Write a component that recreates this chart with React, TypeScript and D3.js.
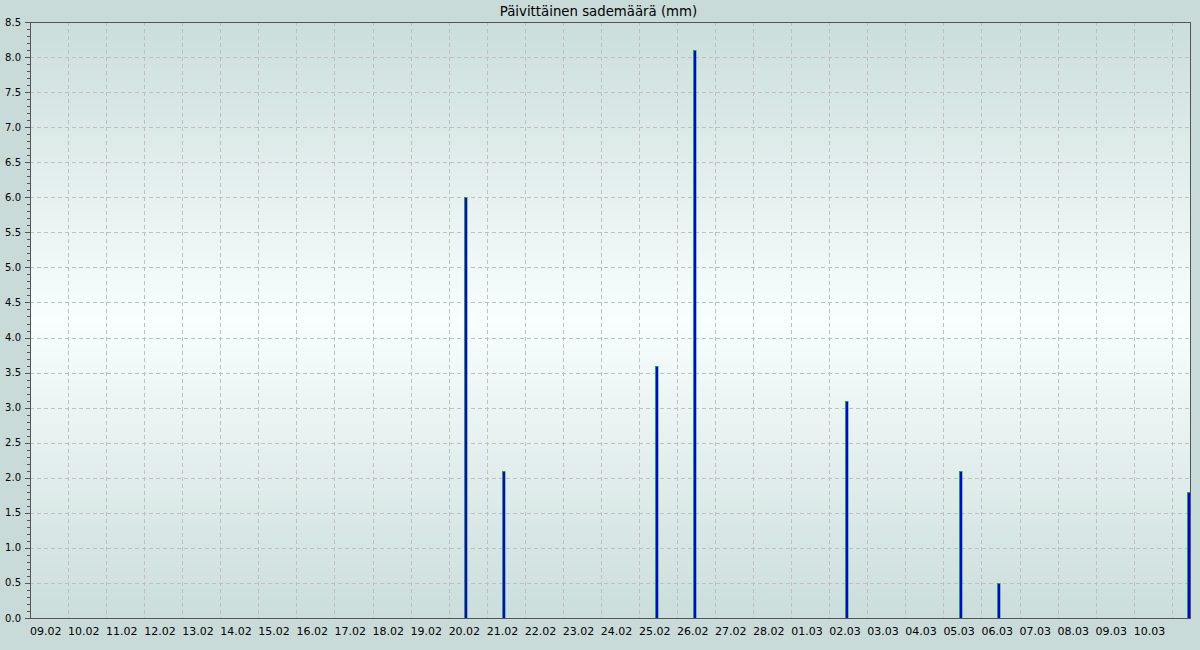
import React from "react";
import * as d3 from "d3";

const title = "Päivittäinen sademäärä (mm)";
const tickLabels = [
  "09.02", "10.02", "11.02", "12.02", "13.02", "14.02", "15.02", "16.02", "17.02", "18.02",
  "19.02", "20.02", "21.02", "22.02", "23.02", "24.02", "25.02", "26.02", "27.02", "28.02",
  "01.03", "02.03", "03.03", "04.03", "05.03", "06.03", "07.03", "08.03", "09.03", "10.03",
];
const rainDates = ["20.02", "21.02", "25.02", "26.02", "02.03", "05.03", "06.03", "11.03"];
const rainValues = [6.0, 2.1, 3.6, 8.1, 3.1, 2.1, 0.5, 1.8];
const yMax = 8.5;

const YEAR = 2023;
const parseDay = (s: string) => {
  const [d, m] = s.split(".").map(Number);
  return new Date(Date.UTC(YEAR, m - 1, d));
};
const DAY = 86400000;

export default function App() {
  const W = 1200, H = 650;
  const left = 30, right = 1190, top = 22, bottom = 618;
  const start = parseDay(tickLabels[0]);
  const end = new Date(start.getTime() + 30.48 * DAY);
  const x = d3.scaleUtc().domain([start, end]).range([left, right]);
  const y = d3.scaleLinear().domain([0, yMax]).range([bottom, top]);

  const majorTicks = d3.range(0, yMax + 0.001, 0.5);
  const minorTicks = d3.range(0, yMax + 0.001, 0.1).filter(
    (v) => Math.abs(v * 2 - Math.round(v * 2)) > 0.01
  );
  const gridDays = d3.range(1, 31).map((i) => new Date(start.getTime() + i * DAY));
  const barOffset = 0.45 * DAY;

  return (
    <svg width={W} height={H} style={{ position: "absolute", left: 0, top: 0, display: "block" }}
      fontFamily="DejaVu Sans, sans-serif">
      <defs>
        <linearGradient id="bg" x1="0" y1="0" x2="0" y2="1">
          <stop offset="0" stopColor="#cbdedb" />
          <stop offset="0.5" stopColor="#f8fefe" />
          <stop offset="1" stopColor="#cbdedb" />
        </linearGradient>
        <clipPath id="plotclip">
          <rect x={left} y={top} width={right - left} height={bottom - top} />
        </clipPath>
      </defs>
      <rect x={0} y={0} width={W} height={H} fill="#c8dbd8" />
      <rect x={left} y={top} width={right - left} height={bottom - top} fill="url(#bg)" />
      <text x={598.5} y={16} textAnchor="middle" fontSize={13.3} fill="#000">{title}</text>
      <g stroke="#c0c0c0" strokeWidth={1} strokeDasharray="4,3">
        {majorTicks.filter((v) => v > 0 && v < yMax).map((v) => (
          <line key={"h" + v} x1={left} x2={right} y1={Math.round(y(v)) + 0.5} y2={Math.round(y(v)) + 0.5} />
        ))}
        {gridDays.map((d, i) => (
          <line key={"v" + i} x1={Math.round(x(d)) + 0.5} x2={Math.round(x(d)) + 0.5} y1={top} y2={bottom} />
        ))}
      </g>
      <g clipPath="url(#plotclip)">
        {rainDates.map((s, i) => {
          const cx = x(new Date(parseDay(s).getTime() + barOffset));
          const L = Math.round(cx - 1.5);
          const y0 = Math.round(y(rainValues[i]));
          return (
            <g key={s}>
              <rect x={L} y={y0} width={3.5} height={bottom - y0} fill="#33a033" />
              <rect x={L + 1} y={y0 + 1} width={2} height={bottom - y0 - 1} fill="#0000ff" />
            </g>
          );
        })}
      </g>
      <g stroke="#555" strokeWidth={1} fill="none">
        <line x1={left} x2={right} y1={top + 0.5} y2={top + 0.5} />
        <line x1={right + 0.5} x2={right + 0.5} y1={top} y2={bottom} />
        <line x1={left + 0.5} x2={left + 0.5} y1={top} y2={bottom + 1} />
        <line x1={left} x2={right + 1} y1={bottom + 0.5} y2={bottom + 0.5} />
        {majorTicks.map((v) => (
          <line key={"M" + v} x1={25} x2={left} y1={Math.round(y(v)) + 0.5} y2={Math.round(y(v)) + 0.5} />
        ))}
        {minorTicks.map((v) => (
          <line key={"m" + v} x1={27} x2={left} y1={Math.round(y(v)) + 0.5} y2={Math.round(y(v)) + 0.5} />
        ))}
      </g>
      <g fontSize={10} fill="#000" textAnchor="end">
        {majorTicks.map((v) => (
          <text key={"yl" + v} x={21} y={y(v)} dy="0.35em">{v.toFixed(1)}</text>
        ))}
      </g>
      <g fontSize={11} fill="#000" textAnchor="start">
        {tickLabels.map((s, i) => (
          <text key={"xl" + s} x={x(new Date(start.getTime() + i * DAY))} y={635}>{s}</text>
        ))}
      </g>
    </svg>
  );
}
